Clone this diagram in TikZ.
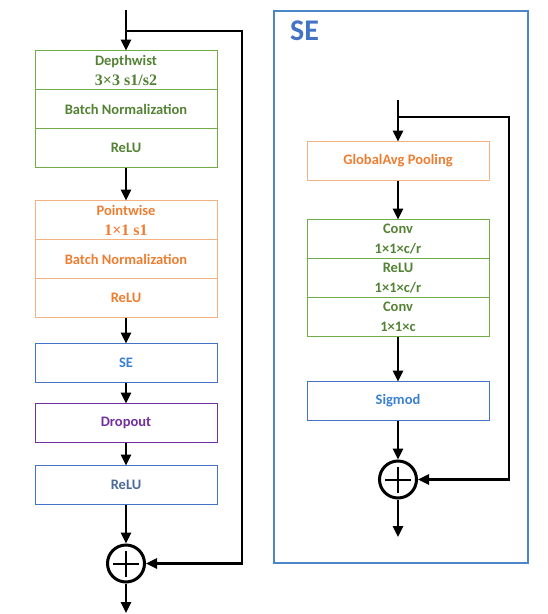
\documentclass[tikz,border=0pt]{standalone}
\usepackage{fontspec}
\setsansfont{Carlito}
\newfontfamily\numfont{Liberation Serif}
\usetikzlibrary{positioning, arrows.meta}
\definecolor{grnline}{HTML}{70AD47}
\definecolor{grntext}{HTML}{548235}
\definecolor{orgline}{HTML}{F4B183}
\definecolor{orgtext}{HTML}{ED7D31}
\definecolor{bluline}{HTML}{4472C4}
\definecolor{blutext}{HTML}{3A80D2}
\definecolor{relutext}{HTML}{4A6A9A}
\definecolor{purp}{HTML}{7030A0}
\definecolor{framecol}{HTML}{4A86C8}
\newcommand\plus[1]{\draw[line width=2pt] ([xshift=-13pt]#1.center) -- ([xshift=13pt]#1.center) ([yshift=-13pt]#1.center) -- ([yshift=13pt]#1.center);}

\begin{document}
\begin{tikzpicture}[x=1pt, y=-1pt, font=\sffamily\bfseries\fontsize{14.5}{20}\selectfont,
  blk/.style={draw, line width=0.9pt, minimum width=182pt, minimum height=39pt, inner sep=0pt, outer sep=0pt, align=center},
  grnb/.style={blk, draw=grnline, text=grntext},
  orgb/.style={blk, draw=orgline, text=orgtext},
  blub/.style={blk, draw=bluline, text=blutext},
  purb/.style={blk, draw=purp, text=purp},
  arr/.style={line width=2.5pt, -{Triangle[length=11pt,width=10pt]}},
  add/.style={draw, circle, line width=3pt, minimum size=37pt, inner sep=0pt}]
\useasboundingbox (0,0) rectangle (548,614);

% main block
\node[grnb] (dw) at (126,70) {Depthwist\\{\numfont\fontsize{16}{20}\selectfont 3×3 s1/s2}};
\node[grnb, below=0pt of dw] (bn1) {Batch Normalization};
\node[grnb, below=0pt of bn1] (re1) {ReLU};
\node[orgb, below=33pt of re1] (pw) {Pointwise\\{\numfont\fontsize{16}{20}\selectfont 1×1 s1}};
\node[orgb, below=0pt of pw] (bn2) {Batch Normalization};
\node[orgb, below=0pt of bn2] (re2) {ReLU};
\node[blub, below=26pt of re2] (se) {SE};
\node[purb, below=21pt of se] (dp) {Dropout};
\node[blub, text=relutext, below=23pt of dp] (re3) {ReLU};
\node[add, below=39pt of re3] (ad1) {};
\plus{ad1}
\coordinate (in1) at (126,10);
\coordinate (br1) at (126,31);
\coordinate (sk1) at (242,31);
\coordinate (out1) at (126,613);

\draw[arr] (in1) -- (dw);
\draw[arr] (br1) -- (sk1) |- (ad1);
\draw[arr] (re1) -- (pw);
\draw[arr] (re2) -- (se);
\draw[arr] (se) -- (dp);
\draw[arr] (dp) -- (re3);
\draw[arr] (re3) -- (ad1);
\draw[arr] (ad1) -- (out1);

% SE block
\node[draw=framecol, line width=1.5pt, minimum width=254pt, minimum height=552pt] (sebox) at (401,287) {};
\node[anchor=west, inner sep=0pt, text=bluline, font=\sffamily\bfseries\fontsize{30}{32}\selectfont] (setitle) at (290,31) {SE};
\node[orgb] (gap) at (398,161) {GlobalAvg Pooling};
\node[grnb, below=39pt of gap] (cv1) {Conv\\1×1×c/r};
\node[grnb, below=0pt of cv1] (re4) {ReLU\\1×1×c/r};
\node[grnb, below=0pt of re4] (cv2) {Conv\\1×1×c};
\node[blub, below=45pt of cv2] (sg) {Sigmod};
\node[add, below=39pt of sg] (ad2) {};
\plus{ad2}
\coordinate (in2) at (398,100);
\coordinate (br2) at (398,117);
\coordinate (sk2) at (509,117);
\coordinate (out2) at (398,537);

\draw[arr] (in2) -- (gap);
\draw[arr] (br2) -- (sk2) |- (ad2);
\draw[arr] (gap) -- (cv1);
\draw[arr] (cv2) -- (sg);
\draw[arr] (sg) -- (ad2);
\draw[arr] (ad2) -- (out2);
\end{tikzpicture}
\end{document}
